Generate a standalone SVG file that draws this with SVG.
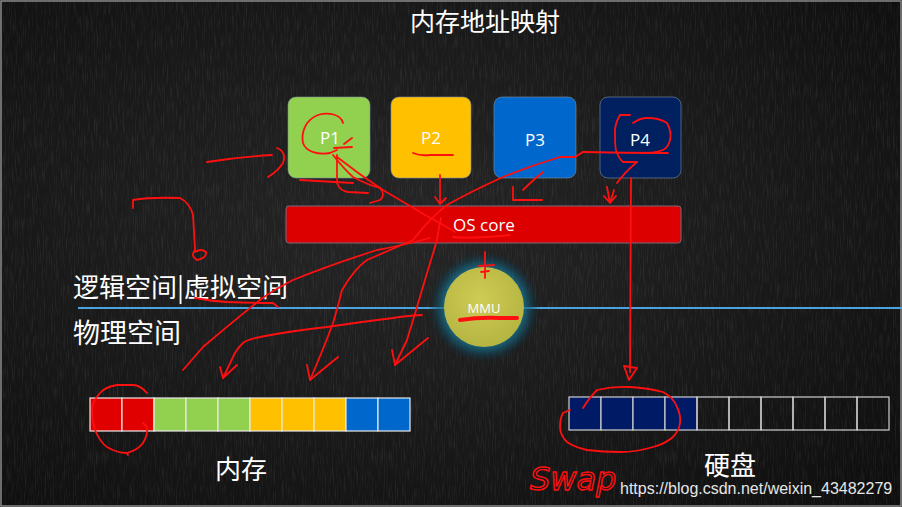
<svg xmlns="http://www.w3.org/2000/svg" width="902" height="507" viewBox="0 0 902 507">
  <defs>
    <filter id="chalk" x="0" y="0" width="100%" height="100%">
      <feTurbulence type="fractalNoise" baseFrequency="0.9 0.06" numOctaves="2" seed="3" result="n"/>
      <feColorMatrix type="matrix" values="0 0 0 0 1  0 0 0 0 1  0 0 0 0 1  0.6 0 0 0 -0.28" in="n"/>
    </filter>
    <radialGradient id="vign" cx="0.45" cy="0.45" r="0.75">
      <stop offset="0" stop-color="#262626"/>
      <stop offset="1" stop-color="#0e0e0e"/>
    </radialGradient>
    <radialGradient id="glow" cx="0.5" cy="0.5" r="0.5">
      <stop offset="0.6" stop-color="#1d8fb0" stop-opacity="0.95"/>
      <stop offset="0.8" stop-color="#135d77" stop-opacity="0.6"/>
      <stop offset="1" stop-color="#0a2a36" stop-opacity="0"/>
    </radialGradient>
    <radialGradient id="mmuFill" cx="0.45" cy="0.4" r="0.6">
      <stop offset="0" stop-color="#cfcc55"/>
      <stop offset="1" stop-color="#b6b542"/>
    </radialGradient>
    <style>
      .cjk { font-family: "Noto Sans CJK SC", "Liberation Sans", sans-serif; fill: #ffffff; }
      .lat { font-family: "Open Sans", "Liberation Sans", sans-serif; fill: #ffffff; }
      .pbox { stroke: #7f8f9f; stroke-opacity: 0.6; stroke-width: 1; }
      .cellM { stroke: #e8e8e8; stroke-width: 1.2; }
      .cellD { stroke: #cfcfcf; stroke-width: 1.2; }
      .ink { fill: none; stroke: #ff1010; stroke-width: 1.8; stroke-linecap: round; stroke-linejoin: round; }
    </style>
  </defs>

  <!-- chalkboard background -->
  <rect x="0" y="0" width="902" height="507" fill="url(#vign)"/>
  <rect x="0" y="0" width="902" height="507" filter="url(#chalk)" opacity="0.3"/>
  <rect x="1" y="1" width="900" height="505" fill="none" stroke="#8a8a8a" stroke-width="1.5"/>

  <!-- title -->
  <text class="cjk" x="485" y="31" font-size="25" text-anchor="middle">内存地址映射</text>

  <!-- processes -->
  <g id="P1">
    <rect class="pbox" x="288" y="97" width="82" height="81" rx="8" fill="#92d050"/>
    <text class="lat" x="330" y="144" font-size="17" text-anchor="middle">P1</text>
  </g>
  <g id="P2">
    <rect class="pbox" x="391" y="97" width="80" height="81" rx="8" fill="#ffc000"/>
    <text class="lat" x="431" y="144" font-size="17" text-anchor="middle">P2</text>
  </g>
  <g id="P3">
    <rect class="pbox" x="494" y="97" width="82" height="81" rx="8" fill="#0068cc"/>
    <text class="lat" x="535" y="146" font-size="17" text-anchor="middle">P3</text>
  </g>
  <g id="P4">
    <rect class="pbox" x="600" y="97" width="81" height="81" rx="8" fill="#002060"/>
    <text class="lat" x="640" y="146" font-size="17" text-anchor="middle">P4</text>
  </g>

  <!-- OS core -->
  <g id="oscore">
    <rect x="286" y="206" width="395" height="37" rx="3" fill="#dc0000" stroke="#7a6a7a" stroke-width="1"/>
    <text class="lat" x="484" y="231" font-size="17" text-anchor="middle">OS core</text>
  </g>

  <!-- space labels and divider -->
  <text class="cjk" x="73" y="297" font-size="26">逻辑空间|虚拟空间</text>
  <line x1="78" y1="308" x2="902" y2="308" stroke="#4aa3df" stroke-width="2.2"/>
  <text class="cjk" x="73" y="343" font-size="27">物理空间</text>

  <!-- MMU -->
  <g id="MMU">
    <circle cx="484" cy="307" r="56" fill="url(#glow)"/>
    <circle cx="484" cy="307" r="40" fill="url(#mmuFill)"/>
    <text class="lat" x="484" y="313" font-size="13" text-anchor="middle">MMU</text>
  </g>

  <!-- memory -->
  <g id="memory">
    <rect class="cellM" x="90" y="398" width="32" height="33" fill="#e00000"/>
    <rect class="cellM" x="122" y="398" width="32" height="33" fill="#e00000"/>
    <rect class="cellM" x="154" y="398" width="32" height="33" fill="#92d050"/>
    <rect class="cellM" x="186" y="398" width="32" height="33" fill="#92d050"/>
    <rect class="cellM" x="218" y="398" width="32" height="33" fill="#92d050"/>
    <rect class="cellM" x="250" y="398" width="32" height="33" fill="#ffc000"/>
    <rect class="cellM" x="282" y="398" width="32" height="33" fill="#ffc000"/>
    <rect class="cellM" x="314" y="398" width="32" height="33" fill="#ffc000"/>
    <rect class="cellM" x="346" y="398" width="32" height="33" fill="#0068cc"/>
    <rect class="cellM" x="378" y="398" width="32" height="33" fill="#0068cc"/>
    <text class="cjk" x="241" y="479" font-size="26" text-anchor="middle">内存</text>
  </g>

  <!-- disk -->
  <g id="disk">
    <rect class="cellD" x="569" y="397" width="32" height="33" fill="#001a66"/>
    <rect class="cellD" x="601" y="397" width="32" height="33" fill="#001a66"/>
    <rect class="cellD" x="633" y="397" width="32" height="33" fill="#001a66"/>
    <rect class="cellD" x="665" y="397" width="32" height="33" fill="#001a66"/>
    <rect class="cellD" x="697" y="397" width="32" height="33" fill="none"/>
    <rect class="cellD" x="729" y="397" width="32" height="33" fill="none"/>
    <rect class="cellD" x="761" y="397" width="32" height="33" fill="none"/>
    <rect class="cellD" x="793" y="397" width="32" height="33" fill="none"/>
    <rect class="cellD" x="825" y="397" width="32" height="33" fill="none"/>
    <rect class="cellD" x="857" y="397" width="32" height="33" fill="none"/>
    <text class="cjk" x="730" y="475" font-size="26" text-anchor="middle">硬盘</text>
  </g>

  <!-- hand-drawn red connectors / annotations -->
  <g id="connectors" class="ink">
    <!-- circle on P1 and cross -->
    <path d="M343,123 C341,114 328,112 318,115 C305,120 301,133 303,143 C306,152 318,155 330,153 L337,150"/>
    <path d="M334,148 L352,147 M344,144 L352,138"/>
    <!-- P1 down lines -->
    <path d="M337,155 L337,183 Q340,191 348,192 L368,193"/>
    <path d="M333,155 Q345,170 353,177 Q368,185 380,188 Q386,195 380,200 L370,203"/>
    <path d="M300,180 L353,183"/>
    <path d="M337,157 Q360,175 383,190 Q405,203 427,216 Q442,224 455,232"/>
    <!-- left annotations -->
    <path d="M207,162 Q240,157 272,155 M277,148 Q287,152 283,163 Q278,171 268,177"/>
    <path d="M133,208 L133,200 Q150,197 180,198 Q190,203 193,215 L195,250 Q190,256 197,260 Q207,258 206,252 Q201,248 195,252"/>
    <!-- P2 underline and arrow -->
    <path d="M413,153 Q420,156 430,155 L453,155"/>
    <path d="M440,175 L440,204 M435,197 L440,204 L446,198"/>
    <!-- OS core underline -->
    <path d="M453,237 Q470,239 510,235"/>
    <!-- long line P3/P4 -> OS core -> memory (arrow) -->
    <path d="M583,152 L575,157 L560,157 Q530,166 503,177 Q470,192 447,205 Q430,218 413,240 Q390,250 367,260 Q355,268 342,290 Q337,310 333,323 Q325,345 310,380"/>
    <path d="M307,365 L310,380 L338,357"/>
    <!-- line to (183,370) -->
    <path d="M430,238 Q400,246 377,250 Q330,265 293,280 Q270,292 260,300 Q235,320 203,347 L183,370"/>
    <!-- P2 through core to memory (arrow) -->
    <path d="M441,218 Q438,232 437,240 Q432,257 427,273 L417,307 Q410,330 407,340 L395,365"/>
    <path d="M392,350 L395,365 L428,338"/>
    <!-- MMU -> memory (arrow) -->
    <path d="M422,315 Q405,316 393,318 Q360,322 327,327 Q290,331 260,337 Q246,340 243,343 Q236,350 233,357 L223,378"/>
    <path d="M220,367 L223,378 L237,365"/>
    <!-- underline 虚拟空间 -->
    <path d="M195,298 Q210,301 227,302 Q255,303 273,303 L278,307"/>
    <!-- P3 L-shape -->
    <path d="M543,172 Q533,180 523,190 M513,187 L513,200 L542,200"/>
    <!-- P4 scribbles -->
    <path d="M583,152 Q625,153 668,153"/>
    <path d="M630,115 L620,115 Q614,125 615,135 Q615,150 617,153 Q620,160 623,162 L637,162"/>
    <path d="M633,123 Q640,118 647,118 Q660,118 667,123 Q672,132 670,140 Q668,148 663,150 Q655,153 643,153"/>
    <path d="M637,162 Q625,172 617,183 M607,187 L610,203 L614,190 M604,196 L610,203 L616,196"/>
    <!-- P4 down to disk (arrow) -->
    <path d="M631,178 L630,372"/>
    <path d="M624,366 L629,380 L637,368 Z"/>
    <!-- MMU arrow and underline -->
    <path d="M485,252 L485,278 M479,266 L494,265 M481,272 L489,271"/>
    <path d="M460,320 Q480,317 500,318 L517,318" stroke-width="4"/>
    <!-- circle around memory red cells -->
    <path d="M147,393 Q140,385 133,385 L117,385 Q105,387 100,393 Q92,402 92,410 Q92,420 95,430 Q100,442 107,447 Q117,453 127,453 Q138,450 143,443 Q148,435 147,427 L143,423 M127,453 L128,455"/>
    <!-- circle around disk cells -->
    <path d="M583,408 Q590,397 597,390 Q613,386 630,387 Q648,388 663,392 Q674,398 677,407 Q681,415 680,423 Q679,431 673,437 Q665,444 653,447 Q637,452 620,452 Q603,452 587,450 Q574,447 567,442 Q560,435 560,427 Q560,418 563,413 L570,410"/>
  </g>

  <!-- Swap handwriting -->
  <text x="530" y="490" font-family="'DejaVu Sans', sans-serif" font-style="italic" font-size="32" fill="none" stroke="#ff1010" stroke-width="1.4">Swap</text>

  <!-- watermark -->
  <text x="620" y="494" font-family="'Liberation Sans', Arial, sans-serif" font-size="16" fill="#e6e6e6">https://blog.csdn.net/weixin_43482279</text>
</svg>
